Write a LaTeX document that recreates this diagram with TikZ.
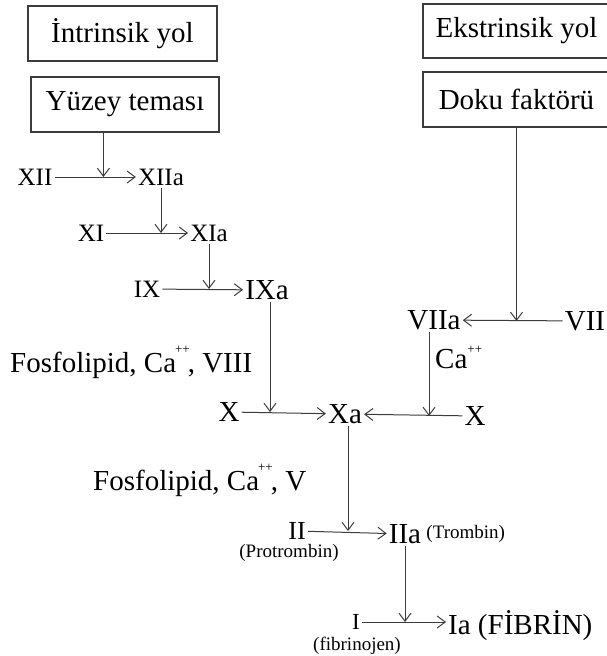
\documentclass[tikz,border=0pt]{standalone}
\usepackage{fontspec}
\setmainfont{Liberation Serif}
\usepackage{tikz}
\usetikzlibrary{arrows.meta, positioning}

\definecolor{cizgi}{HTML}{3C3C3C}
\newcommand{\arti}{\raisebox{0.65em}{\fontsize{13}{13}\selectfont ++}}

\begin{document}
\begin{tikzpicture}[x=1pt, y=-1pt,
        block/.style={rectangle, draw=cizgi, line width=1.2pt, minimum width=187pt, minimum height=55pt, font=\fontsize{29}{32}\selectfont},
        faktor/.style={inner sep=2pt, font=\fontsize{29}{32}\selectfont},
        kucuk/.style={inner sep=2pt, font=\fontsize{25}{28}\selectfont},
        aciklama/.style={inner sep=1pt, font=\fontsize{19}{20}\selectfont},
        line/.style={draw=cizgi, line width=1pt, -{Straight Barb[length=8pt, width=12pt]}}]

        \useasboundingbox (0,0) rectangle (606,656);

        \node [block, minimum width=189pt] (intr) at (122.5,33.5) {İntrinsik yol};
        \node [block, minimum width=188pt] (yuzey) at (125,104.5) {Yüzey teması};
        \node [block, minimum height=54pt] (ekst) at (516.5,31) {Ekstrinsik yol};
        \node [block] (doku) at (516.5,99.5) {Doku faktörü};

        \node [kucuk] (xii) at (35,177) {XII};
        \node [kucuk] (xiia) at (161,177) {XIIa};
        \node [kucuk] (xi) at (91,233) {XI};
        \node [kucuk] (xia) at (209,233) {XIa};
        \node [kucuk] (ix) at (147,289) {IX};
        \node [faktor] (ixa) at (267,290) {IXa};

        \node [faktor] (viia) at (434,320) {VIIa};
        \node [faktor] (vii) at (585,321) {VII};
        \node [faktor, anchor=base west] (ca) at (433,368) {Ca\raisebox{-0.15em}{\arti}};

        \node [faktor, anchor=base west] (fos1) at (8,372) {Fosfolipid, Ca\kern-1pt\arti\kern-2pt, VIII};
        \node [faktor] (xl) at (229,412) {X};
        \node [faktor] (xa) at (345,414) {Xa};
        \node [faktor] (xr) at (475,416) {X};

        \node [faktor, anchor=base west] (fos2) at (91,490) {Fosfolipid, Ca\kern-1pt\arti\kern-2pt, V};
        \node [kucuk, font=\fontsize{26}{28}\selectfont] (ii) at (297,531) {II};
        \node [aciklama] (prot) at (289,553) {(Protrombin)};
        \node [faktor] (iia) at (405,534) {IIa};
        \node [aciklama, right=2pt of iia] (trom) {(Trombin)};

        \node [kucuk, font=\fontsize{23}{25}\selectfont] (i) at (356,622) {I};
        \node [aciklama] (fib) at (357,646) {(fibrinojen)};
        \node [faktor, anchor=base west] (ia) at (446,634) {Ia (FİBRİN)};

        \coordinate (yzalt) at ([xshift=73pt]yuzey.south west);

        \path [line] (yzalt) -- (yzalt |- xii);
        \path [line] (xii) -- (xiia);
        \path [line] (xiia) -- (xiia |- xi);
        \path [line] (xi) -- (xia);
        \path [line] (xia) -- (xia |- ix);
        \path [line] (ix) -- (ixa);
        \path [line] ([xshift=3pt]ixa.south) -- ([xshift=3pt]ixa.south |- xl);
        \path [line] (xl) -- (xa);
        \path [line] (doku) -- (doku |- vii);
        \path [line] (vii) -- (viia);
        \path [line] ([xshift=-5pt]viia.south) -- ([xshift=-5pt]viia.south |- xr);
        \path [line] (xr) -- (xa);
        \path [line] ([xshift=3pt]xa.south) -- ([xshift=3pt]xa.south |- ii);
        \path [line] (ii) -- (iia);
        \path [line] (iia) -- (iia |- i);
        \path [line] (i) -- (i -| ia.west);
    \end{tikzpicture}
\end{document}
